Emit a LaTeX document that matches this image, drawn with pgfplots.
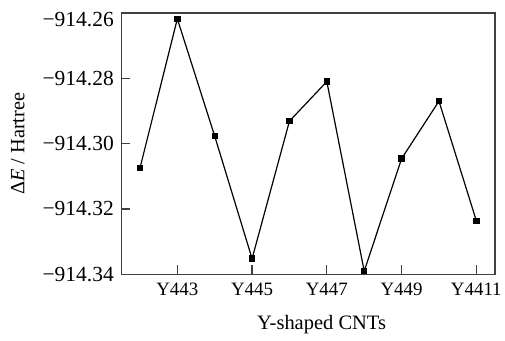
\documentclass[border=0pt]{standalone}
\usepackage{fontspec}
\setmainfont{Liberation Serif}
\usepackage{pgfplots}
\pgfplotsset{compat=1.18}
\begin{document}
\begin{tikzpicture}
\begin{axis}[
  scale only axis,
  width=376pt, height=263pt,
  xmin=1.5, xmax=11.5,
  ymin=-914.34, ymax=-914.26,
  xtick={3,5,7,9,11},
  xticklabels={\textrm{Y443},\textrm{Y445},\textrm{Y447},\textrm{Y449},\textrm{Y4411}},
  ytick={-914.34,-914.32,-914.30,-914.28,-914.26},
  yticklabels={\textrm{−914.34},\textrm{−914.32},\textrm{−914.30},\textrm{−914.28},\raisebox{-7pt}[\height][\depth]{\textrm{−914.26}}},
  xtick pos=bottom, ytick pos=left,
  tick align=inside,
  major tick length=9pt,
  axis line style={line width=1.3pt, black!75},
  tick style={line width=1.2pt, black!75},
  xticklabel style={font=\fontsize{19}{22}\selectfont, yshift=-5pt},
  yticklabel style={font=\fontsize{21.6}{25}\selectfont, xshift=-4pt},
  xlabel={Y-shaped CNTs},
  ylabel={Δ\textit{E} / Hartree},
  xlabel style={font=\fontsize{20.6}{24}\selectfont, at={(axis description cs:0.536,-0.194)}, anchor=center},
  ylabel style={font=\fontsize{20.4}{24}\selectfont, at={(axis description cs:-0.2766,0.5)}, anchor=center, rotate=0},
  clip=false,
]
\addplot[black, line width=1.2pt, mark=square*, mark size=2.6pt] coordinates {
  (2,-914.3075) (3,-914.2618) (4,-914.2977) (5,-914.3352) (6,-914.2931)
  (7,-914.2810) (8,-914.3390) (9,-914.3046) (10,-914.2870) (11,-914.3236)
};
\end{axis}
\path ([xshift=-122pt,yshift=-67pt]current axis.south west) rectangle ++(505pt,343pt);
\end{tikzpicture}
\end{document}
